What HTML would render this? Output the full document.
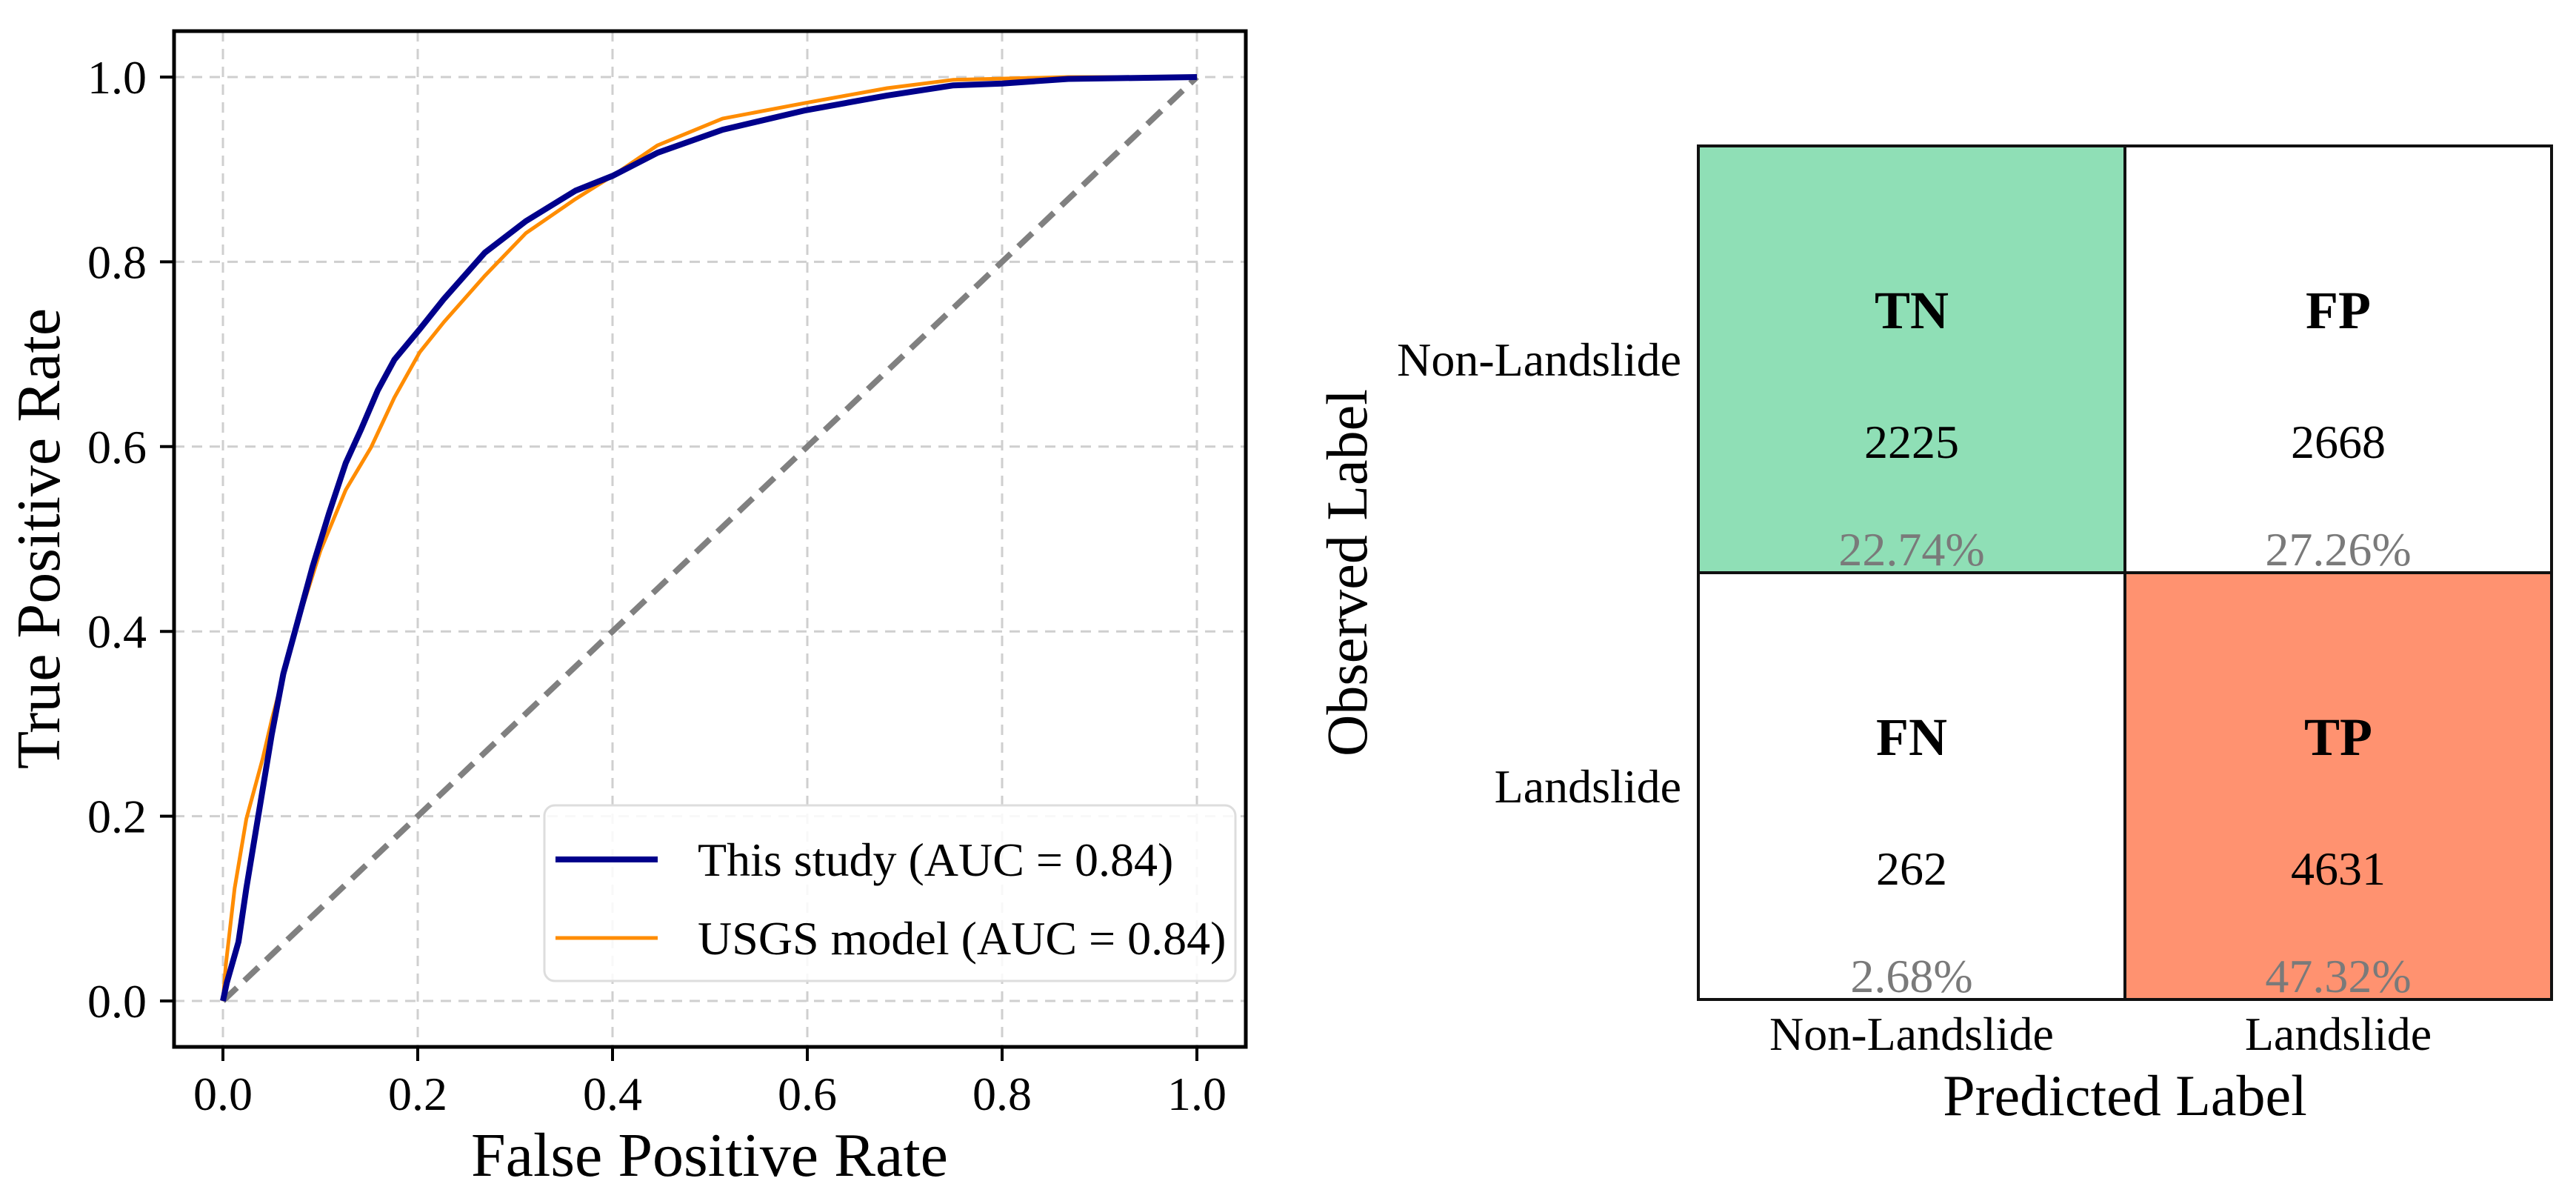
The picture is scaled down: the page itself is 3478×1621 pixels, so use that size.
<!DOCTYPE html>
<html><head><meta charset="utf-8">
<style>
html,body{margin:0;padding:0;background:#fff;}
svg{display:block;font-family:"Liberation Serif","Times New Roman",serif;}
</style></head>
<body>
<svg id="fig" width="3478" height="1621" viewBox="0 0 3478 1621" xmlns="http://www.w3.org/2000/svg">
<rect width="3478" height="1621" fill="#fff"/>
<g id="roc"></g>
<g id="cm"></g>
</svg>
<script>
// ROC data
const ticks = [0.0, 0.2, 0.4, 0.6, 0.8, 1.0];
const tickLabels = ["0.0", "0.2", "0.4", "0.6", "0.8", "1.0"];
const studyFpr = [0, 0.004, 0.016, 0.024, 0.037, 0.050, 0.062, 0.075, 0.092, 0.109, 0.126, 0.142, 0.159, 0.176, 0.202, 0.227, 0.269, 0.311, 0.362, 0.40, 0.446, 0.513, 0.598, 0.682, 0.75, 0.80, 0.868, 1.0];
const studyTpr = [0, 0.02, 0.064, 0.122, 0.205, 0.288, 0.354, 0.404, 0.47, 0.528, 0.582, 0.619, 0.661, 0.694, 0.727, 0.760, 0.810, 0.844, 0.877, 0.893, 0.918, 0.943, 0.964, 0.980, 0.991, 0.993, 0.998, 1.0];
const usgsFpr = [0, 0.003, 0.012, 0.024, 0.041, 0.050, 0.075, 0.10, 0.126, 0.152, 0.176, 0.202, 0.227, 0.269, 0.311, 0.362, 0.40, 0.446, 0.513, 0.598, 0.682, 0.75, 0.868, 1.0];
const usgsTpr = [0, 0.039, 0.122, 0.197, 0.263, 0.304, 0.404, 0.487, 0.553, 0.599, 0.653, 0.702, 0.735, 0.785, 0.831, 0.868, 0.893, 0.926, 0.955, 0.972, 0.988, 0.997, 1.0, 1.0];
const legendLabels = ["This study (AUC = 0.84)", "USGS model (AUC = 0.84)"];
// Confusion matrix data
const cellCodes = [["TN", "FP"], ["FN", "TP"]];
const cellCounts = [[2225, 2668], [262, 4631]];
const cellPercents = ["22.74%", "27.26%", "2.68%", "47.32%"];
const classLabels = ["Non-Landslide", "Landslide"];

const NS = "http://www.w3.org/2000/svg";
function mk(parent, tag, attrs, text) {
  const e = document.createElementNS(NS, tag);
  for (const k in attrs) e.setAttribute(k, attrs[k]);
  if (text !== undefined) e.textContent = text;
  parent.appendChild(e);
  return e;
}
const X0 = 301, X1 = 1616, Y0 = 1351, Y1 = 104;
const sx = v => X0 + (X1 - X0) * v;
const sy = v => Y0 - (Y0 - Y1) * v;
const roc = document.getElementById("roc");

// grid
ticks.forEach((t, i) => {
  const gx = mk(roc, "line", {x1: sx(t), x2: sx(t), y1: 42, y2: 1413, stroke: "#cfcfcf", "stroke-width": 3, "stroke-dasharray": "14 10"});
  
  
  const gy = mk(roc, "line", {x1: 235, x2: 1682, y1: sy(t), y2: sy(t), stroke: "#cfcfcf", "stroke-width": 3, "stroke-dasharray": "14 10"});
  
  
  const tx = mk(roc, "line", {x1: sx(t), x2: sx(t), y1: 1413, y2: 1432, stroke: "#000", "stroke-width": 4});
  
  
  const ty = mk(roc, "line", {x1: 216, x2: 235, y1: sy(t), y2: sy(t), stroke: "#000", "stroke-width": 4});
  
  
  const lx = mk(roc, "text", {x: sx(t), y: 1498, "font-size": 64, "text-anchor": "middle"}, tickLabels[i]);
  
  
  const ly = mk(roc, "text", {x: 198, y: sy(t) + 22, "font-size": 64, "text-anchor": "end"}, tickLabels[i]);
  
  
});
// diagonal
const diag = mk(roc, "line", {x1: sx(0), y1: sy(0), x2: sx(1), y2: sy(1), stroke: "#808080", "stroke-width": 8, "stroke-dasharray": "26 14"});


function pts(xs, ys) { return xs.map((v, i) => sx(v).toFixed(1) + "," + sy(ys[i]).toFixed(1)).join(" "); }
const usgs = mk(roc, "polyline", {points: pts(usgsFpr, usgsTpr), fill: "none", stroke: "#ff8c00", "stroke-width": 5, "stroke-linejoin": "round"});


const study = mk(roc, "polyline", {points: pts(studyFpr, studyTpr), fill: "none", stroke: "#00008b", "stroke-width": 8, "stroke-linejoin": "round"});


// frame
const frame = mk(roc, "rect", {x: 235, y: 42, width: 1447, height: 1371, fill: "none", stroke: "#000", "stroke-width": 5});


// legend
const leg = mk(roc, "g", {});


mk(leg, "rect", {x: 735, y: 1087, width: 933, height: 237, rx: 14, fill: "rgba(255,255,255,0.85)", stroke: "#dddddd", "stroke-width": 3});
const legColors = ["#00008b", "#ff8c00"], legWidths = [8, 5], legY = [1160, 1266];
legendLabels.forEach((lab, i) => {
  const ln = mk(leg, "line", {x1: 750, x2: 888, y1: legY[i], y2: legY[i], stroke: legColors[i], "stroke-width": legWidths[i]});
  
  
  const tt = mk(leg, "text", {x: 942, y: legY[i] + 22, "font-size": 64}, lab);
  
  
});
const xl = mk(roc, "text", {x: 958, y: 1587, "font-size": 84, "text-anchor": "middle"}, "False Positive Rate");


const yl = mk(roc, "text", {x: 0, y: 0, "font-size": 84, "text-anchor": "middle", transform: "translate(80,727) rotate(-90)"}, "True Positive Rate");



// Confusion matrix
const cm = document.getElementById("cm");
const CX = 2293, CY = 197, CS = 576;
const fills = [["#8fdfb6", "#ffffff"], ["#ffffff", "#ff9270"]];
for (let r = 0; r < 2; r++) for (let c = 0; c < 2; c++) {
  const x = CX + c * CS, y = CY + r * CS, cx = x + CS / 2;
  const cell = mk(cm, "rect", {x: x, y: y, width: CS, height: CS, fill: fills[r][c], stroke: "#111", "stroke-width": 4});
  
  
  const code = mk(cm, "text", {x: cx, y: y + 246, "font-size": 72, "font-weight": "bold", "text-anchor": "middle"}, cellCodes[r][c]);
  
  
  const cnt = mk(cm, "text", {x: cx, y: y + 421, "font-size": 64, "text-anchor": "middle"}, String(cellCounts[r][c]));
  
  
  const pc = mk(cm, "text", {x: cx, y: y + CS - 10, "font-size": 64, "text-anchor": "middle", fill: "#7a7a7a"}, cellPercents[r * 2 + c]);
  
  
}
classLabels.forEach((lab, i) => {
  const ty = mk(cm, "text", {x: 2270, y: CY + CS * i + CS / 2 + 22, "font-size": 64, "text-anchor": "end"}, lab);
  
  
  const tx = mk(cm, "text", {x: CX + CS * i + CS / 2, y: 1417, "font-size": 64, "text-anchor": "middle"}, lab);
  
  
});
const px = mk(cm, "text", {x: CX + CS, y: 1505, "font-size": 78, "text-anchor": "middle"}, "Predicted Label");


const oy = mk(cm, "text", {x: 0, y: 0, "font-size": 78, "text-anchor": "middle", transform: "translate(1845,773) rotate(-90)"}, "Observed Label");


</script>
</body></html>
